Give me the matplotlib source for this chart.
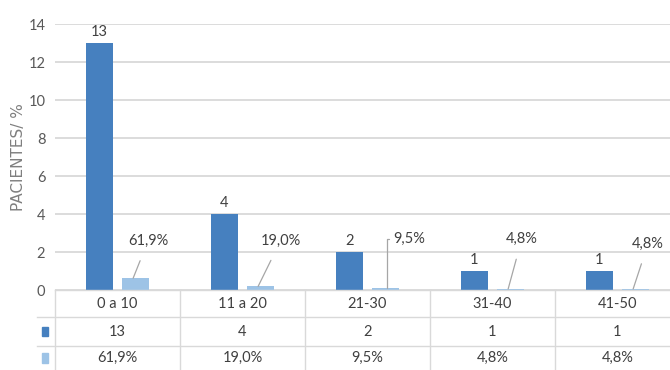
import matplotlib
matplotlib.use("Agg")
import matplotlib.pyplot as plt
from matplotlib.lines import Line2D
from matplotlib.patches import Rectangle
from matplotlib.transforms import blended_transform_factory

plt.rcParams['font.family'] = ['Lato', 'DejaVu Sans']

categories = ["0 a 10", "11 a 20", "21-30", "31-40", "41-50"]
pacientes = [13, 4, 2, 1, 1]
porcentaje = [0.619, 0.190, 0.095, 0.048, 0.048]
pct_labels = ["61,9%", "19,0%", "9,5%", "4,8%", "4,8%"]
yticks = [0, 2, 4, 6, 8, 10, 12, 14]

dark = "#4680BF"
light = "#9DC3E6"
grid_c = "#D9D9D9"
text_c = "#404040"

fig = plt.figure(figsize=(6.7, 3.7), dpi=100)
ax = fig.add_axes([0.0821, 0.2162, 0.9328, 0.7189])

x = list(range(len(categories)))
w = 0.22
off = 0.145
ax.bar([i - off for i in x], pacientes, w, color=dark, zorder=3)
ax.bar([i + off for i in x], porcentaje, w, color=light, zorder=3)

ax.set_xlim(-0.5, 4.5)
ax.set_ylim(0, 14)
ax.set_yticks(yticks)
ax.set_xticks([])
ax.grid(axis='y', color=grid_c, lw=1.3, zorder=0)
for s in ax.spines.values():
    s.set_visible(False)
ax.tick_params(axis='y', length=0, pad=7, labelsize=10.5, labelcolor="#595959")
ax.set_ylabel("PACIENTES/ %", fontsize=11, color="#7F7F7F", labelpad=2,
              family=['DejaVu Sans'])

# dark bar labels
for i, v in zip(x, pacientes):
    ax.annotate(str(v), (i - off, v), xytext=(0, 3), textcoords='offset points',
                ha='center', va='bottom', fontsize=10.5, color=text_c)

# light bar labels with leader lines
dx = [0.10, 0.16, 0.20, 0.09, 0.10]
ty = [2.6, 2.6, 2.7, 2.7, 2.45]
for i, (v, lab) in enumerate(zip(porcentaje, pct_labels)):
    bx = i + off
    if i == 2:
        ax.annotate(lab, (bx + 0.015, v), xytext=(bx + 0.06, ty[i]),
                    ha='left', va='center', fontsize=10.5, color=text_c,
                    arrowprops=dict(arrowstyle='-', color="#A6A6A6", lw=0.9,
                                    connectionstyle="angle,angleA=0,angleB=90,rad=0",
                                    shrinkA=1, shrinkB=0))
    else:
        ax.annotate(lab, (bx - 0.02, v), xytext=(bx + dx[i], ty[i]),
                    ha='center', va='center', fontsize=10.5, color=text_c,
                    arrowprops=dict(arrowstyle='-', color="#A6A6A6", lw=0.9,
                                    shrinkA=8, shrinkB=0))

# data table under the axis
tr = blended_transform_factory(ax.transData, fig.transFigure)
y_top = 0.2162
y_r1 = 0.1432
y_r2 = 0.0649
x_left = -0.644
for yy in (y_r1, y_r2):
    fig.add_artist(Line2D([x_left, 4.5], [yy, yy], transform=tr, color=grid_c, lw=1))
fig.add_artist(Line2D([-0.5, 4.5], [y_top, y_top], transform=tr, color=grid_c, lw=1))
for b in [-0.5, 0.5, 1.5, 2.5, 3.5, 4.5]:
    fig.add_artist(Line2D([b, b], [0, y_top], transform=tr, color=grid_c, lw=1))

for i, c in enumerate(categories):
    fig.text(i, 0.1797, c, transform=tr, ha='center', va='center', fontsize=10.5, color=text_c)
    fig.text(i, 0.104, str(pacientes[i]), transform=tr, ha='center', va='center',
             fontsize=10.5, color=text_c)
    fig.text(i, 0.0324, pct_labels[i], transform=tr, ha='center', va='center',
             fontsize=10.5, color=text_c)

# legend keys
for yy, col in ((0.104, dark), (0.0324, light)):
    fig.add_artist(Rectangle((-0.605, yy - 0.013), 0.05, 0.026, transform=tr,
                             color=col))

fig.savefig("out.png", dpi=100)
